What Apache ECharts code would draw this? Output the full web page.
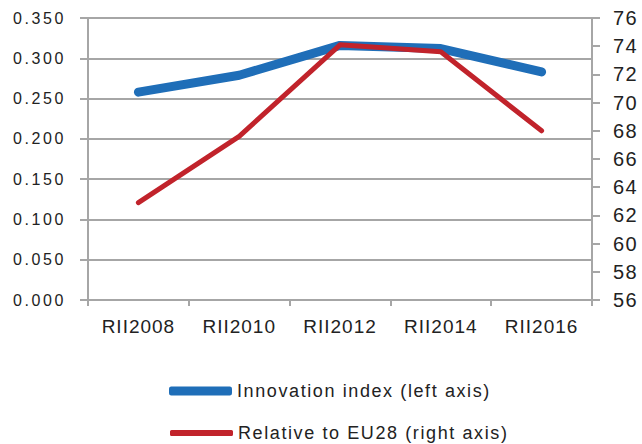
<!doctype html>
<html>
	<head>
		<meta charset="UTF-8">
		<title></title>
		<script src="https://cdn.jsdelivr.net/npm/echarts@6/dist/echarts.min.js"></script>
		<style>
			html, body { margin: 0; padding: 0; background: #fff; }
			#main { width: 642px; height: 444px; }
		</style>
	</head>
	<body>
		<div id="main"></div>
		<script type="text/javascript">
			// categories and values
			var years = ['RII2008', 'RII2010', 'RII2012', 'RII2014', 'RII2016'];
			var innovIndex = [0.258, 0.279, 0.316, 0.312, 0.283];
			var relEU28 = [62.9, 67.6, 74.1, 73.6, 68.0];

			var font = 'Liberation Sans';
			var grey = '#a6a6a6';
			var txt = '#222';
			// svg renderer so the spaced-out text of the original can be copied with css
			var myChart = echarts.init(document.getElementById('main'), null, { renderer: 'svg' });
			var option = {
				animation: false,
				textStyle: { fontFamily: font },
				grid: { left: 88, right: 50, top: 18, bottom: 144 },
				legend: [{
					orient: 'vertical', left: 169, top: 382, padding: 0,
					itemWidth: 63, itemHeight: 9, icon: 'roundRect',
					textStyle: { fontFamily: font, fontSize: 18, color: txt },
					data: ['Innovation index (left axis)']
				}, {
					orient: 'vertical', left: 170, top: 424, padding: 0,
					itemWidth: 63, itemHeight: 6, icon: 'roundRect',
					textStyle: { fontFamily: font, fontSize: 18, color: txt },
					data: ['Relative to EU28 (right axis)']
				}],
				xAxis: {
					type: 'category', data: years, boundaryGap: true,
					axisLine: { lineStyle: { color: grey, width: 2 } },
					axisTick: { show: true, length: 6, lineStyle: { color: grey, width: 2 } },
					axisLabel: { margin: 17, fontSize: 19, color: txt, fontFamily: font }
				},
				yAxis: [{
					type: 'value', min: 0, max: 0.35, interval: 0.05,
					axisLine: { show: true, lineStyle: { color: grey, width: 2 } },
					axisTick: { show: true, length: 8, lineStyle: { color: grey, width: 2 } },
					splitLine: { lineStyle: { color: grey, width: 2 } },
					axisLabel: { margin: 22, fontSize: 16, color: txt, fontFamily: font,
						formatter: function (v) { return v.toFixed(3); } }
				}, {
					type: 'value', min: 56, max: 76, interval: 2, position: 'right',
					axisLine: { show: true, lineStyle: { color: grey, width: 2 } },
					axisTick: { show: true, length: 8, lineStyle: { color: grey, width: 2 } },
					splitLine: { show: false },
					axisLabel: { margin: 21, fontSize: 20, color: txt, fontFamily: font }
				}],
				series: [{
					name: 'Innovation index (left axis)', type: 'line', yAxisIndex: 0,
					data: innovIndex, showSymbol: false, symbol: 'none',
					itemStyle: { color: '#1f6eb8' },
					lineStyle: { color: '#1f6eb8', width: 9, cap: 'round', join: 'round' }
				}, {
					name: 'Relative to EU28 (right axis)', type: 'line', yAxisIndex: 1,
					data: relEU28, showSymbol: false, symbol: 'none',
					itemStyle: { color: '#c1232b' },
					lineStyle: { color: '#c1232b', width: 5, cap: 'round', join: 'round' }
				}]
			};
			myChart.setOption(option);

			// letter spacing by font size (16 = left axis, 18 = legend, 19 = x axis, 20 = right axis)
			var spacing = { '16px': '2.6px', '18px': '1.6px', '19px': '1px', '20px': '1.5px' };
			var texts = document.querySelectorAll('#main text');
			for (var i = 0; i < texts.length; i++) {
				var fs = window.getComputedStyle(texts[i]).fontSize;
				if (spacing[fs]) texts[i].style.letterSpacing = spacing[fs];
			}
		</script>
	</body>
</html>
